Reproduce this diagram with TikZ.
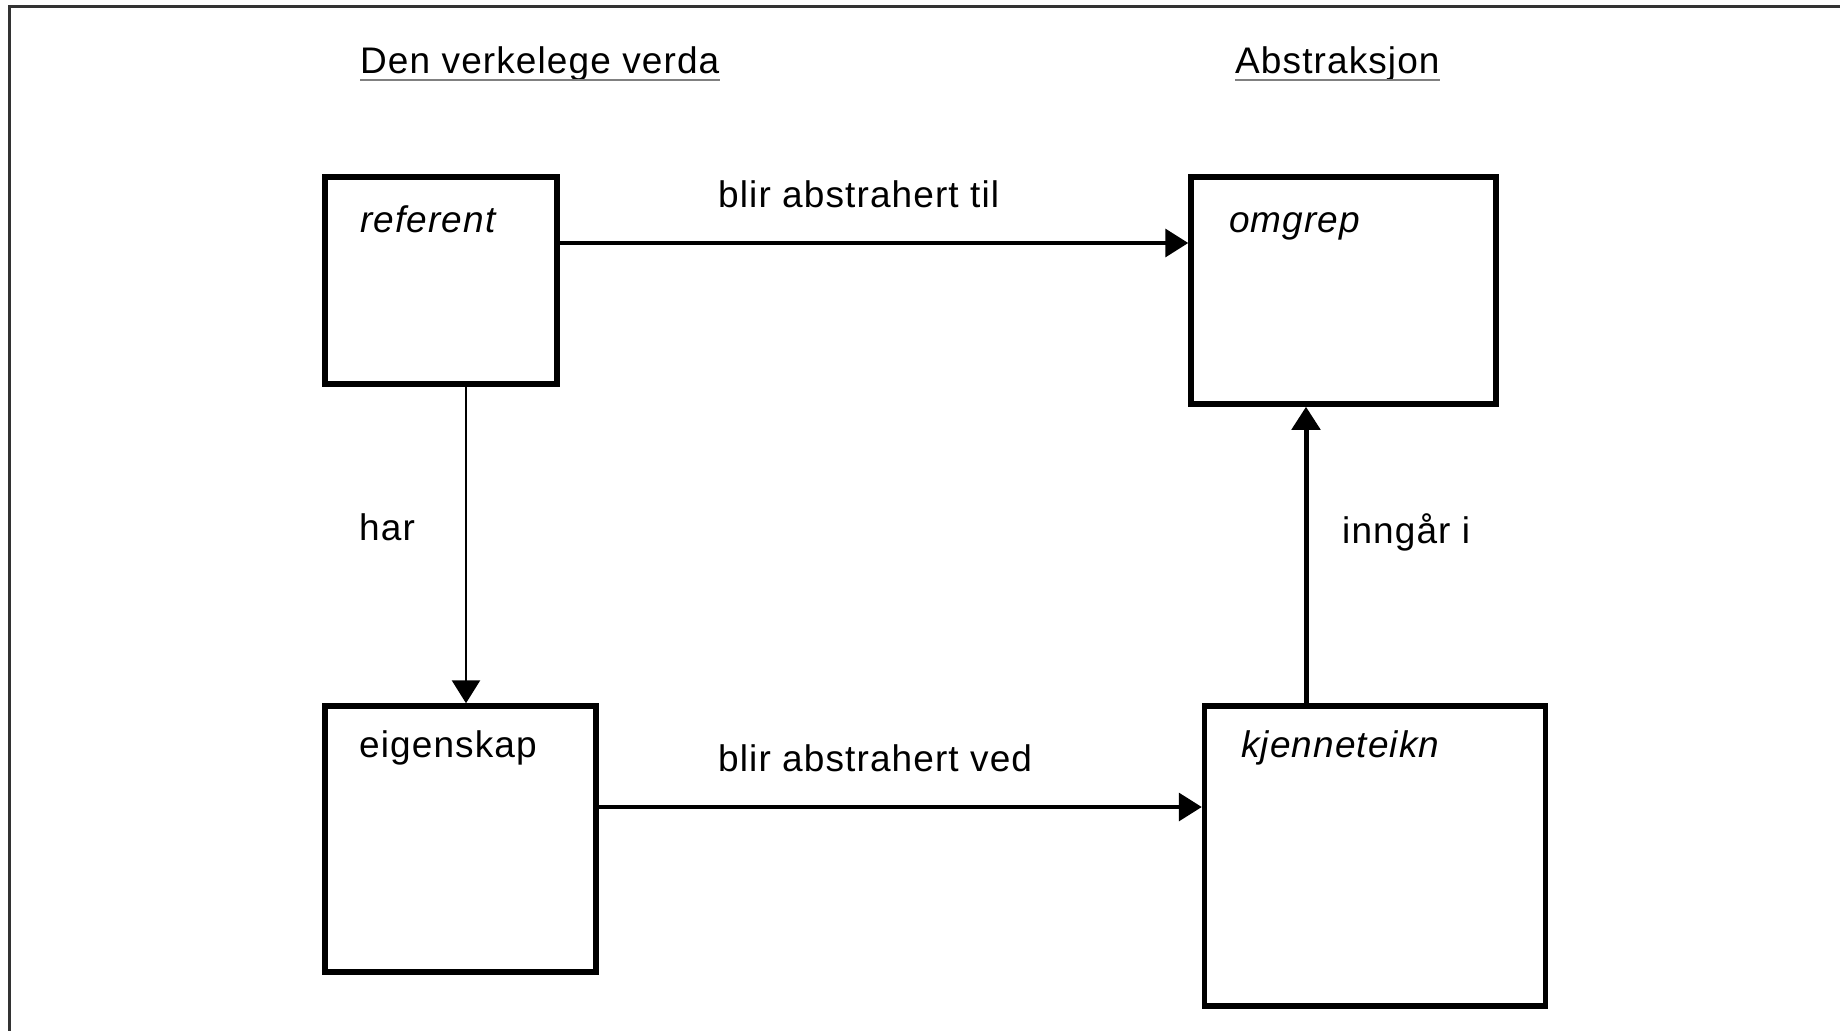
\documentclass[tikz,border=0pt]{standalone}
\usepackage{fontspec}
\setmainfont{Liberation Sans}[LetterSpace=3]
\usetikzlibrary{arrows.meta}
\begin{document}
\begin{tikzpicture}[x=1pt,y=-1pt,
  box/.style={draw=black,line width=5.5pt,minimum width=#1,inner sep=0pt},
  txt/.style={anchor=base west,inner sep=0pt,font=\fontsize{37}{44}\selectfont},
  conn/.style={line width=3.5pt,-{Triangle[length=23pt,width=28pt]}},
  heading/.style={txt},
  uline/.style={draw=gray,line width=2pt}]
\useasboundingbox (0,0) rectangle (1840,1031);
\draw[line width=3pt,draw=black!80] (9,1031) -- (9,6) -- (1840,6);
% headings
\node[heading] (h1) at (360,73) {Den verkelege verda};
\node[heading] (h2) at (1235,73) {Abstraksjon};
\draw[uline] ([yshift=-7pt]h1.base west) -- ([yshift=-7pt]h1.base east);
\draw[uline] ([yshift=-7pt]h2.base west) -- ([yshift=-7pt]h2.base east);
% boxes
\node[box=232pt,minimum height=207pt] (referent) at (441,280.5) {};
\node[box=305pt,minimum height=227pt] (omgrep) at (1343.5,290.5) {};
\node[box=271pt,minimum height=266pt] (eigenskap) at (460.5,839) {};
\node[box=341pt,minimum height=300pt] (kjenneteikn) at (1375,856) {};
% box labels
\node[txt] (t1) at (360,232) {\itshape referent};
\node[txt] (t2) at (1229,232) {\itshape omgrep};
\node[txt] (t3) at (359,757) {eigenskap};
\node[txt] (t4) at (1241,757) {\itshape kjenneteikn};
% connectors
\draw[conn] ([yshift=37.5pt]referent.east) -- ([yshift=47.5pt]omgrep.west);
\draw[conn,line width=2.8pt] ([xshift=25pt]referent.south) -- ([xshift=5.5pt]eigenskap.north);
\draw[conn] ([yshift=32pt]eigenskap.east) -- ([yshift=49pt]kjenneteikn.east -| kjenneteikn.west);
\draw[conn,line width=5pt] ([xshift=-69pt]kjenneteikn.north) -- ([xshift=-37.5pt]omgrep.south);
% connector labels
\node[txt] (l1) at (718,207) {blir abstrahert til};
\node[txt] (l2) at (359,540) {har};
\node[txt] (l3) at (1342,543) {inngår i};
\node[txt] (l4) at (718,771) {blir abstrahert ved};
\end{tikzpicture}
\end{document}
